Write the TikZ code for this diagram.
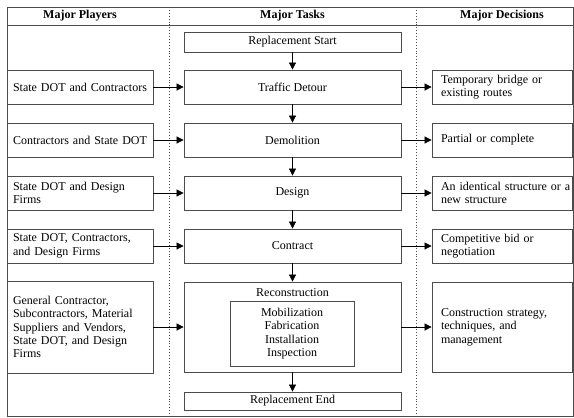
\documentclass[tikz,border=0pt]{standalone}
\usepackage{fontspec}
\setmainfont{Liberation Serif}
\usetikzlibrary{arrows.meta,positioning}

\begin{document}
\begin{tikzpicture}[x=1pt,y=-1pt,>={Triangle[length=7pt,width=7pt]},
  every node/.style={font=\fontsize{12}{13.4}\selectfont},
  frame/.style={draw=black!70,line width=0.8pt},
  sep/.style={draw=black!70,line width=0.9pt,dotted},
  head/.style={font=\fontsize{12}{13.4}\selectfont\bfseries},
  player/.style={frame,text width=138pt,inner xsep=4pt,inner ysep=2pt,align=left},
  task/.style={frame,minimum width=217pt,inner sep=2pt,align=center},
  choice/.style={frame,text width=140pt,inner xsep=0pt,inner ysep=2pt,align=left},
  link/.style={->,black,line width=0.7pt}]

  \useasboundingbox (0,0) rectangle (574,418);

  % table frame and columns
  \draw[frame] (7,7) rectangle (573,416);
  \draw[frame] (7,25) -- (573,25);
  \draw[sep] (169,7) -- (169,416);
  \draw[sep] (416,7) -- (416,416);

  \node[head] (hPlayers)   at (80,16)  {Major Players};
  \node[head] (hTasks)     at (292.5,16) {Major Tasks};
  \node[head] (hDecisions) at (502,16) {Major Decisions};

  % major tasks
  \node[task,minimum height=20pt] (start)  at (292.5,42)  {Replacement Start};
  \node[task,minimum height=34pt] (detour) at (292.5,87)  {Traffic Detour};
  \node[task,minimum height=34pt] (demol)  at (292.5,140) {Demolition};
  \node[task,minimum height=34pt] (design) at (292.5,193) {Design};
  \node[task,minimum height=34pt] (contr)  at (292.5,246) {Contract};
  \node[task,minimum height=90pt,
        label={[anchor=north,yshift=-3pt]north:Reconstruction}] (recon) at (292.5,327) {};
  \node[frame,minimum width=124pt,minimum height=65pt,align=center] (steps) at (292,333.5)
    {Mobilization\\Fabrication\\Installation\\Inspection};
  \node[task,minimum height=18pt] (finish) at (292.5,401) {Replacement End};

  % major players
  \node[player,minimum height=34pt] (p1) at (80,87)  {\hspace*{2pt}State DOT and Contractors};
  \node[player,minimum height=34pt] (p2) at (80,140) {\hspace*{2pt}Contractors and State DOT};
  \node[player,minimum height=34pt] (p3) at (80,193) {\hspace*{2pt}State DOT and Design\\\hspace*{2pt}Firms};
  \node[player,minimum height=34pt] (p4) at (80,246) {\hspace*{2pt}State DOT, Contractors,\\\hspace*{2pt}and Design Firms};
  \node[player,minimum height=92pt] (p5) at (80,327)
    {\hspace*{2pt}General Contractor,\\\hspace*{2pt}Subcontractors, Material\\\hspace*{2pt}Suppliers and Vendors,\\\hspace*{2pt}State DOT, and Design\\\hspace*{2pt}Firms};

  % major decisions
  \node[choice,minimum height=34pt] (d1) at (502,87)  {\hspace*{9pt}Temporary bridge or\\\hspace*{9pt}existing routes};
  \node[choice,minimum height=34pt] (d2) at (502,140) {\hspace*{9pt}Partial or complete};
  \node[choice,minimum height=34pt] (d3) at (502,193) {\hspace*{9pt}An identical structure or a\\\hspace*{9pt}new structure};
  \node[choice,minimum height=34pt] (d4) at (502,246) {\hspace*{9pt}Competitive bid or\\\hspace*{9pt}negotiation};
  \node[choice,minimum height=90pt] (d5) at (502,327)
    {\hspace*{9pt}Construction strategy,\\\hspace*{9pt}techniques, and\\\hspace*{9pt}management};

  % task flow
  \draw[link] (start)  -- (detour);
  \draw[link] (detour) -- (demol);
  \draw[link] (demol)  -- (design);
  \draw[link] (design) -- (contr);
  \draw[link] (contr)  -- (recon);
  \draw[link] (recon)  -- (finish);

  % players -> tasks -> decisions
  \draw[link] (p1) -- (detour);  \draw[link] (detour) -- (d1);
  \draw[link] (p2) -- (demol);   \draw[link] (demol)  -- (d2);
  \draw[link] (p3) -- (design);  \draw[link] (design) -- (d3);
  \draw[link] (p4) -- (contr);   \draw[link] (contr)  -- (d4);
  \draw[link] (p5) -- (recon);   \draw[link] (recon)  -- (d5);
\end{tikzpicture}
\end{document}
